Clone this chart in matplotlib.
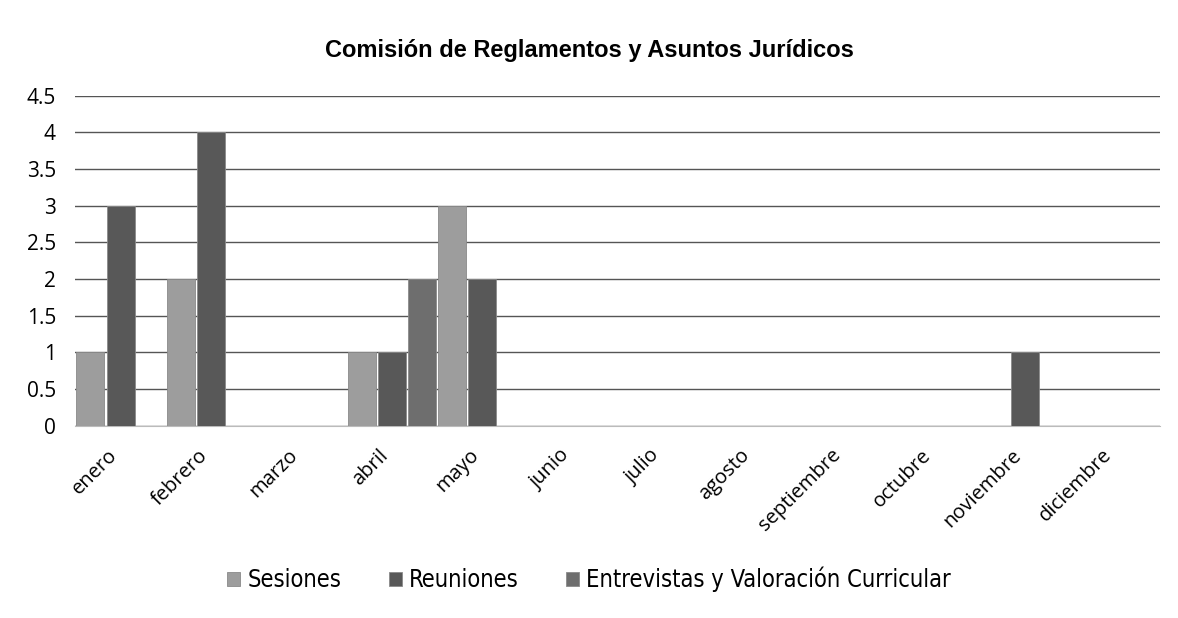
import numpy as np
import matplotlib.pyplot as plt

# Data
meses = ['enero', 'febrero', 'marzo', 'abril', 'mayo', 'junio', 'julio',
         'agosto', 'septiembre', 'octubre', 'noviembre', 'diciembre']
sesiones = [1, 2, 0, 1, 3, 0, 0, 0, 0, 0, 0, 0]
reuniones = [3, 4, 0, 1, 2, 0, 0, 0, 0, 0, 1, 0]
entrevistas = [0, 0, 0, 2, 0, 0, 0, 0, 0, 0, 0, 0]

series = [('Sesiones', sesiones, '#9d9d9d'),
          ('Reuniones', reuniones, '#585858'),
          ('Entrevistas y Valoración Curricular', entrevistas, '#6e6e6e')]

fig = plt.figure(figsize=(11.78, 6.18), dpi=100)
ax = fig.add_axes([0.064, 0.311, 0.921, 0.534])

x = np.arange(len(meses))
w = 0.31
for i, (name, vals, col) in enumerate(series):
    ax.bar(x + (i - 1) / 3, vals, width=w, color=col, edgecolor='#8a8a8a',
           linewidth=0.6, label=name, zorder=3)

ax.set_xlim(-0.5, len(meses) - 0.5)
ax.set_ylim(0, 4.5)
ax.set_yticks(np.arange(0, 4.51, 0.5))
ax.set_yticklabels(['0', '0.5', '1', '1.5', '2', '2.5', '3', '3.5', '4', '4.5'],
                   fontsize=15, family='Open Sans')
ax.grid(axis='y', color='#555555', linewidth=1.0, zorder=0)
for s in ['top', 'right', 'left']:
    ax.spines[s].set_visible(False)
ax.spines['bottom'].set_color('#bbbbbb')
ax.tick_params(axis='both', length=0)
ax.tick_params(axis='y', pad=14)
ax.set_xticks(x - 0.15)
ax.set_xticklabels(meses, rotation=45, ha='right', rotation_mode='anchor',
                   fontsize=14.5, family='Open Sans')
ax.tick_params(axis='x', pad=14)

fig.text(0.5, 0.918, 'Comisión de Reglamentos y Asuntos Jurídicos',
         ha='center', va='center', fontsize=17, fontweight='bold',
         family='Liberation Sans', fontstretch='condensed')

leg = fig.legend(loc='center', bbox_to_anchor=(0.5, 0.062), ncol=3,
                 frameon=False, handlelength=0.55, handleheight=0.55,
                 handletextpad=0.3, columnspacing=2.0,
                 prop={'family': 'DejaVu Sans', 'stretch': 'condensed',
                       'size': 17})

fig.savefig('out.png', dpi=100, facecolor='white')
